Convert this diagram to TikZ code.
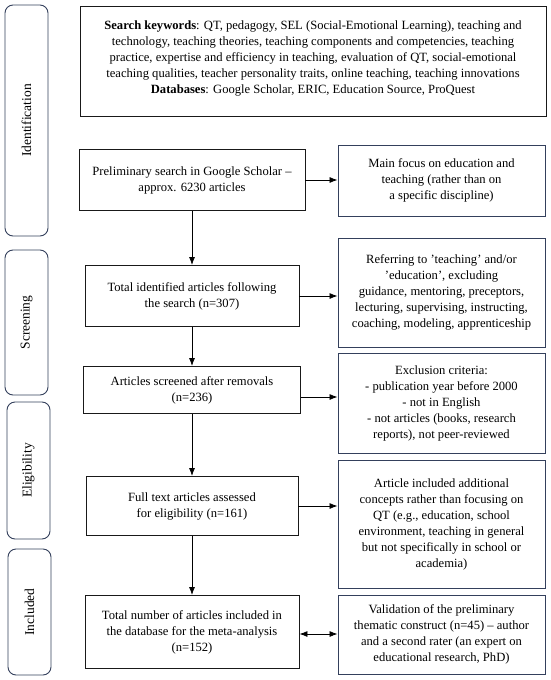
\documentclass[tikz,border=0pt]{standalone}
\usepackage{fontspec}
\setmainfont{Liberation Serif}
\usetikzlibrary{arrows.meta}
\definecolor{framenavy}{RGB}{52,64,92}

\begin{document}
\begin{tikzpicture}[x=1pt,y=1pt,
        every node/.style={font=\fontsize{12.6}{16}\selectfont,align=center,inner sep=2pt},
        mainbox/.style={draw=black!90,line width=0.9pt},
        sidebox/.style={draw=framenavy,line width=0.9pt,minimum width=207pt},
        stagebox/.style={draw=framenavy,line width=0.9pt,rounded corners=8pt,rotate=90,
            minimum height=43pt,font=\fontsize{13.5}{15}\selectfont},
        flow/.style={-{Latex[length=8pt,width=6pt]},line width=0.8pt}]
    \useasboundingbox (0,0) rectangle (550,-680);
    % stages
    \node[stagebox,minimum width=231pt] (ident)  at (26.5,-120.5) {Identification};
    \node[stagebox,minimum width=145pt] (screen) at (26.5,-322.5) {Screening};
    \node[stagebox,minimum width=137pt] (elig)   at (28.5,-470.5) {Eligibility};
    \node[stagebox,minimum width=126pt] (incl)   at (29.5,-612)   {Included};
    % search
    \node[mainbox,minimum width=466pt,minimum height=110pt,text depth=8pt] (keys) at (313,-61)
        {\textbf{Search keywords}: QT, pedagogy, SEL (Social-Emotional Learning), teaching and\\
         technology, teaching theories, teaching components and competencies, teaching\\
         practice, expertise and efficiency in teaching, evaluation of QT, social-emotional\\
         teaching qualities, teacher personality traits, online teaching, teaching innovations\\
         \textbf{Databases}: Google Scholar, ERIC, Education Source, ProQuest};
    % main column
    \node[mainbox,minimum width=226pt,minimum height=61pt] (prelim) at (192,-180)
        {Preliminary search in Google Scholar --\\approx. 6230 articles};
    \node[mainbox,minimum width=214pt,minimum height=61pt] (identified) at (192,-296)
        {Total identified articles following\\the search (n=307)};
    \node[mainbox,minimum width=217pt,minimum height=47pt] (screened) at (192,-390)
        {Articles screened after removals\\(n=236)};
    \node[mainbox,minimum width=212pt,minimum height=59pt] (fulltext) at (192,-506)
        {Full text articles assessed\\for eligibility (n=161)};
    \node[mainbox,minimum width=214pt,minimum height=73pt] (total) at (192,-632)
        {Total number of articles included in\\the database for the meta-analysis\\(n=152)};
    % side column
    \node[sidebox,minimum height=71pt] (focus) at (441.5,-180.5)
        {Main focus on education and\\teaching (rather than on\\a specific discipline)};
    \node[sidebox,minimum height=109pt] (terms) at (441.5,-292.5)
        {Referring to 'teaching' and/or\\'education', excluding\\guidance, mentoring, preceptors,\\
         lecturing, supervising, instructing,\\coaching, modeling, apprenticeship};
    \node[sidebox,minimum height=100pt] (excl) at (441.5,-403)
        {Exclusion criteria:\\- publication year before 2000\\- not in English\\
         - not articles (books, research\\reports), not peer-reviewed};
    \node[sidebox,minimum height=128pt] (concepts) at (441.5,-524)
        {Article included additional\\concepts rather than focusing on\\QT (e.g., education, school\\
         environment, teaching in general\\but not specifically in school or\\academia)};
    \node[sidebox,minimum height=79pt] (valid) at (441.5,-634.5)
        {Validation of the preliminary\\thematic construct (n=45) -- author\\
         and a second rater (an expert on\\educational research, PhD)};
    % arrows
    \path
        (prelim) edge[flow] (identified)
        (identified) edge[flow] (screened)
        (screened) edge[flow] (fulltext)
        (fulltext) edge[flow] (total)
        (prelim.east) edge[flow] (prelim.east -| focus.west)
        (identified.east) edge[flow] (identified.east -| terms.west)
        ([yshift=-7pt]screened.east) edge[flow] ([yshift=-7pt]screened.east -| excl.west)
        (fulltext.east) edge[flow] (fulltext.east -| concepts.west)
        ([yshift=-2pt]total.east) edge[flow,{Latex[length=8pt,width=6pt]}-{Latex[length=8pt,width=6pt]}]
            ([yshift=-2pt]total.east -| valid.west);
\end{tikzpicture}
\end{document}
